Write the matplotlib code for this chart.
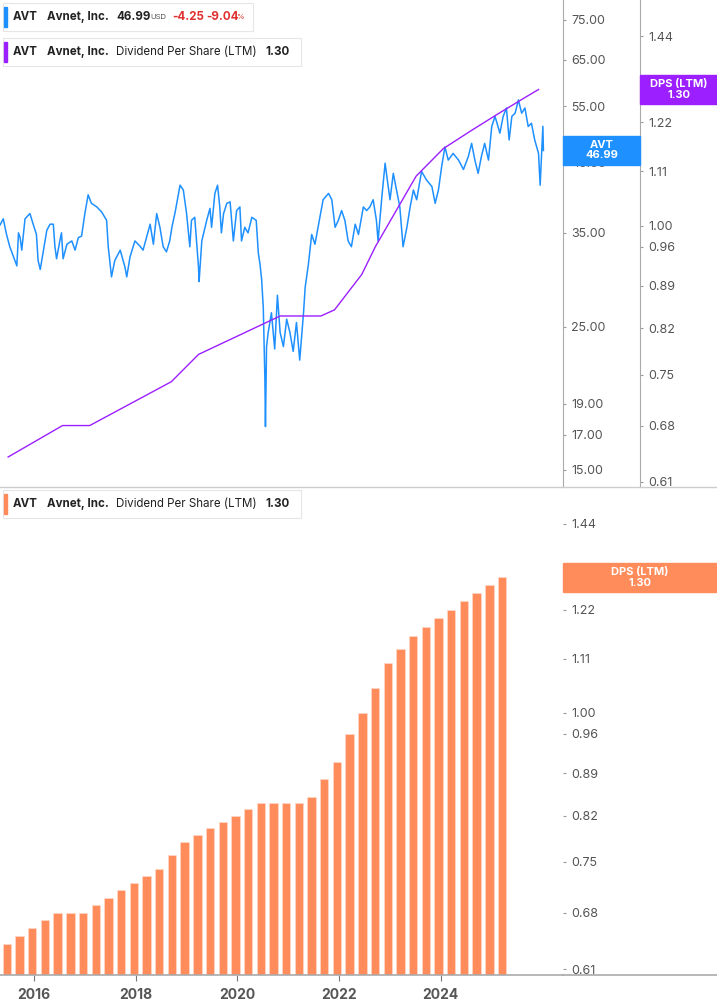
import numpy as np
import matplotlib.pyplot as plt
from matplotlib.patches import Rectangle

plt.rcParams["font.family"] = "Inter"

# Quarterly dividend per share (LTM)
dps_dates = 2015.46 + 0.25 * np.arange(40)
dps_vals = [0.64, 0.65, 0.66, 0.67, 0.68, 0.68, 0.68, 0.69, 0.70, 0.71,
            0.72, 0.73, 0.74, 0.76, 0.78, 0.79, 0.80, 0.81, 0.82, 0.83,
            0.84, 0.84, 0.84, 0.84, 0.85, 0.88, 0.91, 0.96, 1.00, 1.05,
            1.10, 1.13, 1.16, 1.18, 1.20, 1.22, 1.24, 1.26, 1.28, 1.30]

# DPS line points in the price panel
line_idx = [0, 4, 6, 12, 14, 20, 23, 24, 26, 27, 30, 32, 34, 36, 38, 39]

# AVT price (approximate)
price_dates = [
    2015.31, 2015.37, 2015.43, 2015.49, 2015.56, 2015.62, 2015.65, 2015.68, 2015.71, 2015.77,
    2015.86, 2015.92, 2015.98, 2016.01, 2016.05, 2016.11, 2016.17, 2016.23, 2016.29, 2016.32,
    2016.35, 2016.41, 2016.44, 2016.47, 2016.54, 2016.63, 2016.69, 2016.75, 2016.81, 2016.87,
    2016.93, 2016.99, 2017.09, 2017.18, 2017.27, 2017.30, 2017.36, 2017.42, 2017.52, 2017.61,
    2017.64, 2017.70, 2017.79, 2017.88, 2017.94, 2018.01, 2018.07, 2018.13, 2018.19, 2018.25,
    2018.31, 2018.37, 2018.43, 2018.47, 2018.53, 2018.62, 2018.68, 2018.74, 2018.80, 2018.83,
    2018.89, 2018.96, 2018.97, 2019.02, 2019.11, 2019.17, 2019.20, 2019.26, 2019.31, 2019.35,
    2019.38, 2019.42, 2019.48, 2019.54, 2019.60, 2019.66, 2019.72, 2019.75, 2019.81, 2019.87,
    2019.94, 2020.02, 2020.06, 2020.09, 2020.12, 2020.15, 2020.18, 2020.19, 2020.21, 2020.24,
    2020.30, 2020.36, 2020.41, 2020.46, 2020.52, 2020.58, 2020.64, 2020.70, 2020.76, 2020.82,
    2020.89, 2020.92, 2020.98, 2021.04, 2021.10, 2021.19, 2021.25, 2021.35, 2021.41, 2021.47,
    2021.53, 2021.59, 2021.65, 2021.71, 2021.77, 2021.84, 2021.90, 2021.99, 2022.05, 2022.11,
    2022.17, 2022.23, 2022.26, 2022.33, 2022.39, 2022.43, 2022.48, 2022.54, 2022.60, 2022.66,
    2022.72, 2022.79, 2022.85, 2022.91, 2022.97, 2023.06, 2023.15, 2023.25, 2023.31, 2023.37,
    2023.43, 2023.49, 2023.55, 2023.64, 2023.74, 2023.83, 2023.92, 2023.98, 2024.04, 2024.10,
    2024.16, 2024.22, 2024.29, 2024.35, 2024.41, 2024.50, 2024.56, 2024.62, 2024.67, 2024.72,
    2024.78, 2024.84, 2024.90, 2024.96, 2025.02, 2025.08, 2025.14, 2025.21, 2025.24, 2025.27,
    2025.29, 2025.30]
price_vals = [
    36.0, 36.8, 34.8, 33.3, 32.1, 31.1, 35.0, 34.4, 32.9, 36.8,
    37.5, 36.1, 34.8, 31.7, 30.7, 32.9, 35.3, 36.1, 36.1, 33.3,
    31.9, 34.0, 35.0, 31.9, 33.6, 34.0, 32.9, 34.4, 34.6, 37.5,
    40.1, 38.9, 38.4, 37.7, 36.6, 33.3, 29.9, 31.7, 32.9, 30.9,
    29.9, 32.1, 34.0, 33.4, 32.9, 34.6, 36.1, 33.6, 37.5, 35.7,
    33.3, 32.7, 34.0, 35.7, 37.7, 41.5, 40.8, 37.5, 33.3, 36.6,
    37.0, 30.9, 29.4, 34.0, 36.6, 38.2, 35.7, 40.3, 41.5, 38.4,
    35.0, 37.5, 38.9, 39.1, 34.0, 37.9, 38.4, 34.0, 35.7, 35.0,
    37.0, 36.6, 32.5, 31.3, 29.6, 26.8, 20.7, 17.5, 23.3, 24.5,
    26.3, 23.1, 28.0, 24.5, 23.3, 25.7, 24.5, 22.9, 25.4, 22.2,
    26.3, 28.8, 31.3, 34.8, 33.6, 37.0, 39.4, 40.3, 39.4, 35.7,
    36.6, 37.9, 36.6, 34.0, 33.3, 36.1, 34.8, 38.4, 37.9, 38.4,
    39.4, 36.6, 34.0, 39.8, 44.9, 42.3, 39.4, 43.3, 40.8, 38.4,
    33.3, 35.7, 38.4, 40.8, 39.4, 43.6, 42.3, 41.3, 38.9, 40.8,
    44.4, 47.6, 45.4, 46.5, 45.4, 43.9, 46.0, 48.2, 45.4, 43.3,
    46.0, 48.2, 45.4, 51.2, 53.1, 50.0, 53.1, 54.7, 48.8, 53.1,
    53.7, 56.3, 53.7, 54.7, 51.2, 51.8, 48.8, 46.5, 41.5, 47.1,
    51.24, 46.99]

price_ticks = [15, 17, 19, 25, 35, 45, 55, 65, 75]
dps_ticks = [0.61, 0.68, 0.75, 0.82, 0.89, 0.96, 1.00, 1.11, 1.22, 1.30, 1.44]
year_ticks = [2016, 2018, 2020, 2022, 2024]

BLUE = "#1e90ff"
PURPLE = "#9b1fff"
ORANGE = "#ff8c5a"
GRAY = "#555555"

W, H = 717, 1005
fig = plt.figure(figsize=(W / 100, H / 100), dpi=100)


def px_axes(x0, y0, x1, y1):
    return fig.add_axes([x0 / W, 1 - y1 / H, (x1 - x0) / W, (y1 - y0) / H])


def style_right(ax, ticks, labels_fmt="{:.2f}"):
    ax.set_yscale("log")
    ax.yaxis.set_minor_locator(plt.NullLocator())
    ax.set_yticks(ticks)
    ax.set_yticklabels([labels_fmt.format(t) for t in ticks])
    ax.tick_params(axis="y", length=2, width=0.8, colors="#999999", labelcolor=GRAY,
                   labelsize=9, pad=4, right=True, left=False, labelright=True, labelleft=False)


# ---- top panel: price ----
ax1 = px_axes(0, 0, 563, 487)
ax1.plot(price_dates, price_vals, color=BLUE, lw=1.1)
ax1.set_xlim(2015.31, 2025.66)
ax1.set_ylim(14.1, 80.5)
style_right(ax1, price_ticks)
ax1.set_xticks([])
for s in ["top", "left", "bottom"]:
    ax1.spines[s].set_visible(False)
ax1.spines["right"].set_color("#aaaaaa")
ax1.patch.set_alpha(0)

# DPS axis in top panel
ax2 = px_axes(0, 0, 640, 487)
ax2.set_xlim(2015.31, 2015.31 + (2025.66 - 2015.31) * 640 / 563)
ax2.plot([dps_dates[i] for i in line_idx], [dps_vals[i] for i in line_idx], color=PURPLE, lw=1)
ax2.set_ylim(0.604, 1.545)
style_right(ax2, dps_ticks)
ax2.set_xticks([])
for s in ["top", "left", "bottom"]:
    ax2.spines[s].set_visible(False)
ax2.spines["right"].set_color("#aaaaaa")
ax2.patch.set_alpha(0)

# separator line
fig.add_artist(plt.Line2D([0, 1], [1 - 487.5 / H] * 2, color="#cccccc", lw=1))

# ---- bottom panel: bars ----
ax3 = px_axes(0, 490, 563, 975)
ax3.bar(dps_dates, dps_vals, width=0.165, color=ORANGE, edgecolor="#ffd9c8", linewidth=0.5)
ax3.set_xlim(2015.325, 2026.41)
ax3.set_ylim(0.603, 1.537)
style_right(ax3, dps_ticks)
ax3.set_xticks(year_ticks)
ax3.set_xticklabels([str(y) for y in year_ticks])
ax3.tick_params(axis="x", length=4, colors="#777777", labelcolor=GRAY, labelsize=10, pad=5)
for lab in ax3.get_xticklabels():
    lab.set_fontweight("bold")
for s in ["top", "left", "right"]:
    ax3.spines[s].set_visible(False)
ax3.spines["bottom"].set_color("#aaaaaa")
ax3.spines["bottom"].set_linewidth(1.2)
fig.add_artist(plt.Line2D([563 / W, 1], [1 - 975 / H] * 2, color="#aaaaaa", lw=1.2))


# ---- value labels on the right ----
def tag(x0, x1, y0, y1, color, txt):
    fig.add_artist(Rectangle((x0 / W, 1 - y1 / H), (x1 - x0) / W, (y1 - y0) / H,
                             transform=fig.transFigure, color=color, zorder=5))
    fig.text((x0 + x1) / 2 / W, 1 - (y0 + y1) / 2 / H, txt, color="white", fontsize=8,
             fontweight="bold", ha="center", va="center", linespacing=1.0, zorder=6)


tag(563, 640, 136, 165, BLUE, "AVT\n46.99")
tag(640, 717, 75, 104, PURPLE, "DPS (LTM)\n1.30")
tag(563, 717, 563, 592, ORANGE, "DPS (LTM)\n1.30")


# ---- legend boxes ----
def legend_box(y0, w, color, parts):
    fig.add_artist(Rectangle((3 / W, 1 - (y0 + 28) / H), w / W, 28 / H, transform=fig.transFigure,
                             facecolor="white", edgecolor="#e6e6e6", lw=0.8, zorder=5))
    fig.add_artist(Rectangle((4 / W, 1 - (y0 + 24) / H), 3 / W, 20 / H, transform=fig.transFigure,
                             color=color, zorder=6))
    for x, txt, kw in parts:
        fig.text(x / W, 1 - (y0 + 14) / H, txt, va="center", zorder=7, **kw)


b = dict(fontsize=8.3, fontweight="bold", color="#222222")
r = dict(fontsize=8.3, fontweight="bold", color="#e03030")
legend_box(3, 250, BLUE, [
    (13, "AVT", b), (47, "Avnet, Inc.", b), (116, "46.99", b),
    (150, "USD", dict(fontsize=5.5, color=GRAY)),
    (172, "-4.25", r), (206, "-9.04", r),
    (236, "%", dict(fontsize=5.5, color="#e03030"))])
for yb, col in [(38, PURPLE), (490, ORANGE)]:
    legend_box(yb, 298, col, [
        (13, "AVT", b), (47, "Avnet, Inc.", b),
        (116, "Dividend Per Share (LTM)", dict(fontsize=8.3, color="#222222")),
        (265, "1.30", b)])

fig.savefig("out.png", dpi=100)
